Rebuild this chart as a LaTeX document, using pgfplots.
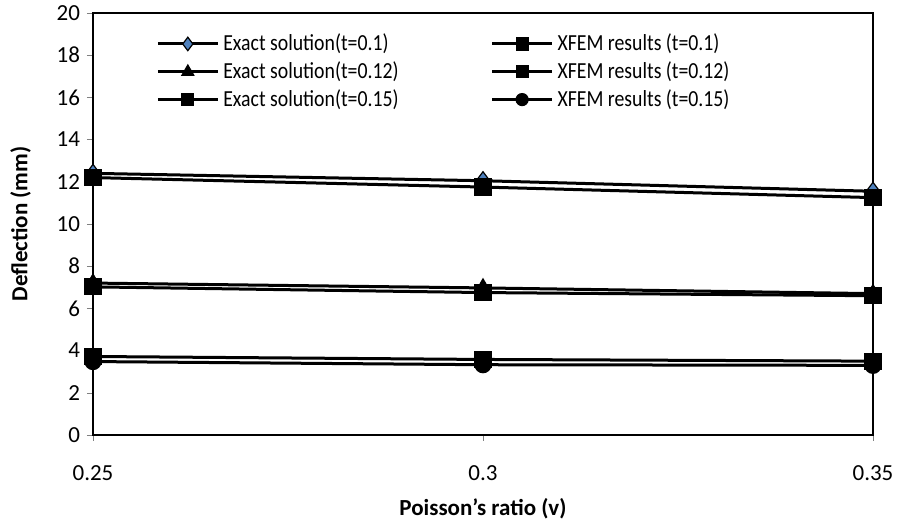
\documentclass[border=0pt]{standalone}
\usepackage{pgfplots}
\pgfplotsset{compat=1.18}
\usetikzlibrary{calc}
\usepackage{fontspec}
\setmainfont{Carlito}
\newfontfamily\condfont[FakeStretch=0.86]{Carlito}
\definecolor{dblue}{HTML}{4F81BD}
\begin{document}
\begin{tikzpicture}
\begin{axis}[
  scale only axis,
  width=390pt, height=211pt,
  xmin=0.25, xmax=0.35, ymin=0, ymax=20,
  xtick={0.25,0.3,0.35},
  xticklabels={0.25,0.3,0.35},
  ytick={0,2,...,20},
  tick align=outside,
  xtick pos=bottom, ytick pos=left,
  major tick length=3pt,
  /pgf/number format/assume math mode=true,
  tick label style={font=\fontsize{11.5}{13}\selectfont},
  xticklabel style={yshift=-9pt},
  axis line style={line width=0.6pt},
  xlabel={\textbf{Poisson's ratio (v)}},
  ylabel={\textbf{Deflection (mm)}},
  label style={font=\fontsize{11.5}{13}\selectfont},
  xlabel style={yshift=-2pt},
  ylabel style={yshift=6pt},
  legend columns=2,
  legend cell align=left,
  legend style={draw=none, fill=none, at={(0.073,0.97)}, anchor=north west,
    font=\condfont\fontsize{11.5}{13.5}\selectfont, row sep=0pt,
    /tikz/every even column/.append style={column sep=44pt}},
  legend image code/.code={\draw[mark repeat=2,mark phase=2,every mark/.append style={scale=0.75}] plot coordinates {(0pt,0pt)(15pt,0pt)(30pt,0pt)};},
  every axis plot/.append style={line width=1.5pt, black},
]
\addplot[mark=diamond*, mark size=4.5pt, mark options={fill=dblue, line width=0.6pt}] coordinates {(0.25,12.4)(0.3,12.05)(0.35,11.55)};
\addlegendentry{Exact solution(t=0.1)}
\addplot[mark=square*, mark size=4pt, mark options={fill=black, line width=0.6pt}] coordinates {(0.25,12.2)(0.3,11.75)(0.35,11.25)};
\addlegendentry{XFEM results (t=0.1)}
\addplot[mark=triangle*, mark size=4.5pt, mark options={fill=black, line width=0.6pt}] coordinates {(0.25,7.2)(0.3,6.97)(0.35,6.7)};
\addlegendentry{Exact solution(t=0.12)}
\addplot[mark=square*, mark size=4pt, mark options={fill=black, line width=0.6pt}] coordinates {(0.25,7.02)(0.3,6.75)(0.35,6.6)};
\addlegendentry{XFEM results (t=0.12)}
\addplot[mark=square*, mark size=4pt, mark options={fill=black, line width=0.6pt}] coordinates {(0.25,3.72)(0.3,3.58)(0.35,3.5)};
\addlegendentry{Exact solution(t=0.15)}
\addplot[mark=*, mark size=4pt, mark options={fill=black, line width=0.6pt}] coordinates {(0.25,3.48)(0.3,3.33)(0.35,3.3)};
\addlegendentry{XFEM results (t=0.15)}
\end{axis}
\pgfresetboundingbox
\useasboundingbox ($(current axis.south west)+(-46.5pt,-46pt)$) rectangle ($(current axis.north east)+(14pt,6.5pt)$);
\end{tikzpicture}
\end{document}
